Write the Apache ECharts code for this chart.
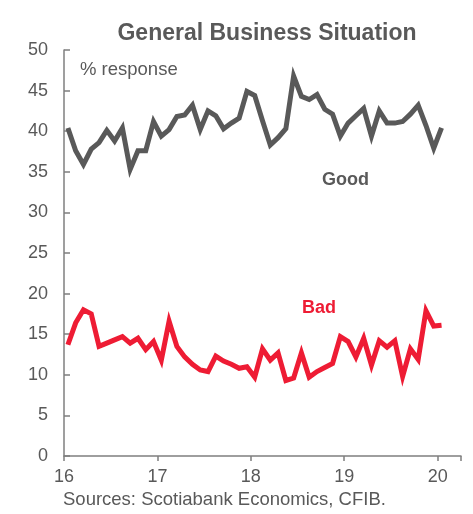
<!DOCTYPE html>
<html>
<head>
<meta charset="utf-8">
<script src="https://cdn.jsdelivr.net/npm/echarts@6/dist/echarts.min.js"></script>
<style>
  html, body { margin: 0; padding: 0; background: #fff; }
  #chart { width: 473px; height: 514px; }
</style>
</head>
<body>
<div id="chart"></div>
<script>
// Monthly survey readings, Jan 2016 – Jan 2020 (% of respondents)
const startYear = 16;
const good = [
  40.4, 37.6, 35.9, 37.8, 38.6, 40.1, 38.8, 40.4, 35.3, 37.6, 37.6, 41.2,
  39.4, 40.2, 41.8, 42.0, 43.2, 40.2, 42.5, 41.9, 40.3, 41.0, 41.6, 44.9,
  44.4, 41.3, 38.3, 39.2, 40.3, 46.8, 44.3, 43.9, 44.5, 42.7, 42.1, 39.4,
  41.0, 41.9, 42.8, 39.4, 42.5, 41.0, 41.0, 41.2, 42.1, 43.2, 40.7, 37.9,
  40.4
];
const bad = [
  13.7, 16.4, 18.0, 17.5, 13.5, 13.9, 14.3, 14.7, 13.9, 14.5, 13.1, 14.1,
  11.8, 16.6, 13.5, 12.2, 11.3, 10.6, 10.4, 12.3, 11.7, 11.3, 10.8, 11.0,
  9.7, 13.2, 11.8, 12.7, 9.3, 9.6, 12.7, 9.7, 10.4, 10.9, 11.4, 14.7,
  14.1, 12.2, 14.5, 11.2, 14.2, 13.4, 14.2, 9.8, 13.2, 11.9, 17.9, 16.0,
  16.1
];
const yearTicks = [16, 17, 18, 19, 20];

// Each monthly reading sits at the middle of its month on a year axis
const monthPos = i => startYear + (i + 0.5) / 12;
const toPairs = arr => arr.map((v, i) => [monthPos(i), v]);

const grey = '#595959';
const axisGrey = '#7f7f7f';
const red = '#ee1c34';
const font = 'Liberation Sans, Arial, sans-serif';

const chart = echarts.init(document.getElementById('chart'), null, { renderer: 'canvas' });
chart.setOption({
  animation: false,
  backgroundColor: '#ffffff',
  title: {
    text: 'General Business Situation',
    left: 262, top: 17, textAlign: 'center',
    textStyle: { fontFamily: font, fontSize: 23, fontWeight: 'bold', color: grey }
  },
  grid: { left: 64, right: 12, top: 50, bottom: 58, containLabel: false },
  xAxis: {
    type: 'value',
    min: yearTicks[0], max: 20.25, interval: 1,
    axisLine: { show: true, lineStyle: { color: axisGrey, width: 1.5 } },
    axisTick: { show: true, inside: false, length: 5, lineStyle: { color: axisGrey, width: 1.5 } },
    splitLine: { show: false },
    axisLabel: {
      margin: 12, color: grey, fontFamily: font, fontSize: 18,
      formatter: v => yearTicks.includes(v) ? String(v) : ''
    }
  },
  yAxis: {
    type: 'value',
    min: 0, max: 50, interval: 5,
    axisLine: { show: true, lineStyle: { color: axisGrey, width: 1.5 } },
    axisTick: { show: true, inside: true, length: 6, lineStyle: { color: axisGrey, width: 1.5 } },
    splitLine: { show: false },
    axisLabel: { margin: 16, color: grey, fontFamily: font, fontSize: 18 }
  },
  series: [
    {
      name: 'Good', type: 'line', data: toPairs(good),
      showSymbol: false, lineStyle: { color: grey, width: 5, join: 'miter' }
    },
    {
      name: 'Bad', type: 'line', data: toPairs(bad),
      showSymbol: false, lineStyle: { color: red, width: 5, join: 'miter' }
    }
  ],
  graphic: [
    { type: 'text', left: 80, top: 60,
      style: { text: '% response', fill: grey, font: '18.5px ' + font } },
    { type: 'text', left: 322, top: 171,
      style: { text: 'Good', fill: grey, font: 'bold 18px ' + font } },
    { type: 'text', left: 302, top: 299,
      style: { text: 'Bad', fill: red, font: 'bold 18px ' + font } },
    { type: 'text', left: 63, top: 490,
      style: { text: 'Sources: Scotiabank Economics, CFIB.', fill: grey, font: '18.5px ' + font } }
  ]
});
</script>
</body>
</html>
